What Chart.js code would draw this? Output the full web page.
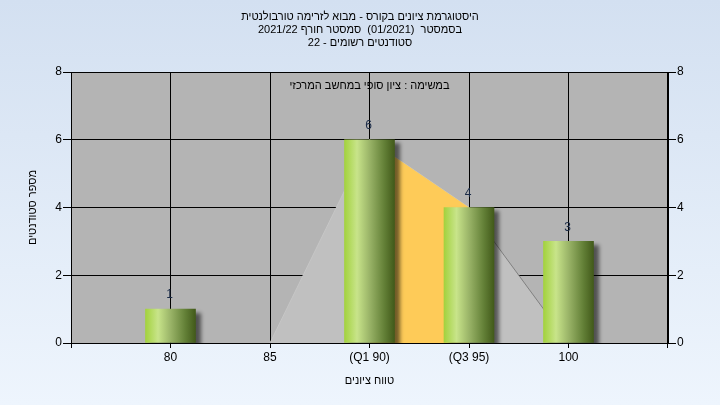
<!DOCTYPE html>
<html><head><meta charset="utf-8">
<script src="https://cdn.jsdelivr.net/npm/chart.js@4.4.1/dist/chart.umd.min.js"></script>
<style>html,body{margin:0;padding:0;background:#e4edf8;}canvas{display:block;}</style>
</head><body>
<canvas id="c" width="720" height="405"></canvas>
<script>
// ---- data ----
const titleLines = [
  'היסטוגרמת ציונים בקורס - מבוא לזרימה טורבולנטית',
  'בסמסטר  (01/2021)  סמסטר חורף 2021/22',
  'סטודנטים רשומים - 22'
];
const subtitleText = 'במשימה : ציון סופי במחשב המרכזי';
const yAxisTitle = 'מספר סטודנטים';
const xAxisTitle = 'טווח ציונים';
const barGrades = [80, 90, 95, 100];
const barCounts = [1, 6, 4, 3];
const xTickValues = [80, 85, 90, 95, 100];
const xTickLabels = ['80', '85', '(Q1 90)', '(Q3 95)', '100'];
const curveGrades = [85, 90, 95, 100];
const curveCounts = [0, 6, 4, 0];
const quartileGrades = [90, 95];
const quartileCounts = [6, 4];
const yTickValues = [0, 2, 4, 6, 8];

const FONT = '"Liberation Sans", "DejaVu Sans", Arial, sans-serif';

function drawRtl(ctx, text, cx, y) {
  ctx.save();
  ctx.direction = 'rtl';
  ctx.textAlign = 'center';
  ctx.fillText(text, cx, y);
  ctx.restore();
}

const bgPlugin = {
  id: 'bg',
  beforeDraw(chart) {
    const { ctx, chartArea: a, width, height } = chart;
    ctx.save();
    const g = ctx.createLinearGradient(0, 0, 0, height);
    g.addColorStop(0, '#d3e0f1');
    g.addColorStop(1, '#eef5fd');
    ctx.fillStyle = g;
    ctx.fillRect(0, 0, width, height);
    ctx.fillStyle = '#b4b4b4';
    ctx.fillRect(a.left, a.top, a.right - a.left, a.bottom - a.top);
    ctx.restore();
  },
  beforeDatasetDraw(chart, args) {
    if (chart.data.datasets[args.index].type === 'bar') {
      const ctx = chart.ctx;
      ctx.shadowColor = 'rgba(0,0,0,0.55)';
      ctx.shadowOffsetX = 5;
      ctx.shadowOffsetY = 4;
      ctx.shadowBlur = 4;
    }
  },
  afterDatasetDraw(chart, args) {
    if (chart.data.datasets[args.index].type === 'bar') {
      const ctx = chart.ctx;
      ctx.shadowColor = 'rgba(0,0,0,0)';
      ctx.shadowOffsetX = 0;
      ctx.shadowOffsetY = 0;
      ctx.shadowBlur = 0;
    }
  },
  afterDatasetsDraw(chart) {
    const { ctx, chartArea: a } = chart;
    ctx.save();
    ctx.strokeStyle = '#000';
    ctx.lineWidth = 1;
    ctx.beginPath();
    ctx.moveTo(a.left + 0.5, a.top); ctx.lineTo(a.left + 0.5, a.bottom + 5);
    ctx.moveTo(a.right - 0.5, a.top); ctx.lineTo(a.right - 0.5, a.bottom + 5);
    ctx.moveTo(a.left, a.bottom + 0.5); ctx.lineTo(a.right, a.bottom + 0.5);
    ctx.stroke();
    const meta = chart.getDatasetMeta(0);
    ctx.font = '12px ' + FONT;
    ctx.fillStyle = '#1c2c48';
    ctx.textAlign = 'center';
    ctx.textBaseline = 'middle';
    meta.data.forEach((el, i) => {
      ctx.fillText(String(barCounts[i]), el.x - 1, el.y - 14);
    });
    ctx.fillStyle = '#000';
    ctx.font = '11px ' + FONT;
    const mid = (a.left + a.right) / 2;
    drawRtl(ctx, titleLines[0], 360, 17);
    drawRtl(ctx, titleLines[1], 360, 30);
    drawRtl(ctx, titleLines[2], 360, 43);
    drawRtl(ctx, subtitleText, mid, 86);
    drawRtl(ctx, xAxisTitle, mid, 381);
    ctx.save();
    ctx.translate(33, (a.top + a.bottom) / 2);
    ctx.rotate(-Math.PI / 2);
    drawRtl(ctx, yAxisTitle, 0, 0);
    ctx.restore();
    ctx.restore();
  }
};

function barGradient(c) {
  const chart = c.chart;
  const xs = chart.scales && chart.scales.x;
  if (!xs || !c.raw) return '#9bb56a';
  const cx = xs.getPixelForValue(c.raw.x);
  if (!isFinite(cx)) return '#9bb56a';
  const g = chart.ctx.createLinearGradient(cx - 25, 0, cx + 25, 0);
  g.addColorStop(0, '#a3d23e');
  g.addColorStop(0.25, '#c8e48a');
  g.addColorStop(0.5, '#9ab468');
  g.addColorStop(0.8, '#627f36');
  g.addColorStop(1, '#425a1a');
  return g;
}

new Chart(document.getElementById('c'), {
  type: 'line',
  data: {
    datasets: [
      {
        type: 'bar',
        data: barGrades.map((g, i) => ({ x: g, y: barCounts[i] })),
        backgroundColor: barGradient,
        borderWidth: 0,
        barThickness: 50,
        order: 0
      },
      {
        type: 'line',
        data: quartileGrades.map((g, i) => ({ x: g, y: quartileCounts[i] })),
        fill: 'origin',
        backgroundColor: '#fecb58',
        borderWidth: 0,
        borderColor: 'rgba(0,0,0,0)',
        pointRadius: 0,
        tension: 0,
        order: 1
      },
      {
        type: 'line',
        data: curveGrades.map((g, i) => ({ x: g, y: curveCounts[i] })),
        fill: 'origin',
        backgroundColor: '#c0c0c0',
        borderWidth: 1,
        borderColor: '#c6c6c6',
        segment: { borderColor: s => (s.p0.parsed.x >= 95 ? '#808080' : '#c6c6c6') },
        pointRadius: 0,
        tension: 0,
        order: 2
      }
    ]
  },
  options: {
    responsive: false,
    animation: false,
    layout: { padding: { top: 72, left: 0, right: 0, bottom: 0 } },
    plugins: { legend: { display: false }, tooltip: { enabled: false }, title: { display: false } },
    scales: {
      x: {
        type: 'linear',
        min: 75, max: 105,
        offset: false,
        afterBuildTicks: s => { s.ticks = xTickValues.map(v => ({ value: v })); },
        afterFit: s => { s.height = 62; },
        ticks: {
          color: '#000', font: { size: 12, family: FONT }, padding: 2, maxRotation: 0, autoSkip: false,
          callback: v => { const i = xTickValues.indexOf(v); return i >= 0 ? xTickLabels[i] : ''; }
        },
        grid: { color: '#000', lineWidth: 1, tickLength: 5, offset: false },
        border: { color: '#000' }
      },
      y: {
        position: 'left',
        min: 0, max: 8,
        afterBuildTicks: s => { s.ticks = yTickValues.map(v => ({ value: v })); },
        afterFit: s => { s.width = 71; },
        ticks: { color: '#000', font: { size: 12, family: FONT }, padding: 1 },
        grid: { color: '#000', lineWidth: 1, tickLength: 8 },
        border: { color: '#000' }
      },
      y2: {
        position: 'right',
        min: 0, max: 8,
        afterBuildTicks: s => { s.ticks = yTickValues.map(v => ({ value: v })); },
        afterFit: s => { s.width = 52; },
        ticks: { color: '#000', font: { size: 12, family: FONT }, padding: 1 },
        grid: { color: '#000', lineWidth: 1, tickLength: 8, drawOnChartArea: false },
        border: { color: '#000' }
      }
    }
  },
  plugins: [bgPlugin]
});
</script>
</body></html>
